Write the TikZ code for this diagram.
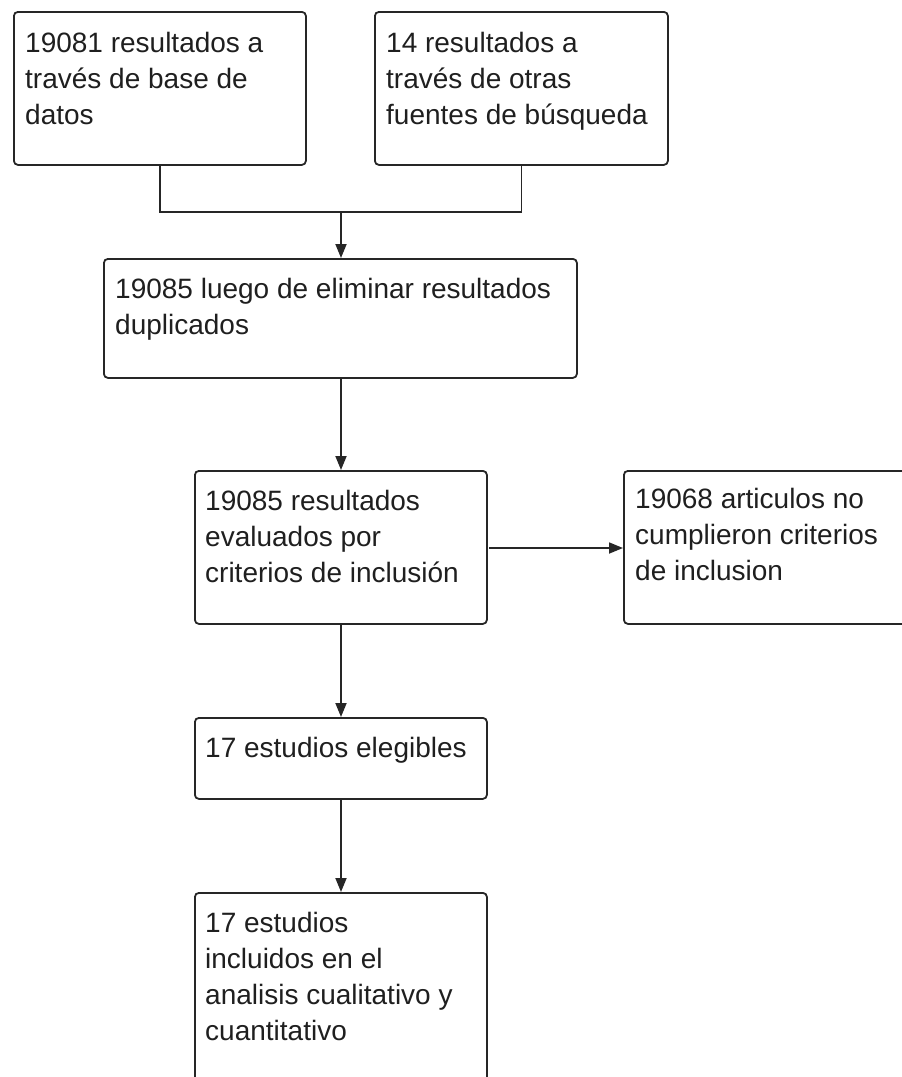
\documentclass[tikz,border=0pt]{standalone}
\usepackage{fontspec}
\setmainfont{Liberation Sans}
\usetikzlibrary{arrows.meta}
\begin{document}
\begin{tikzpicture}[x=1pt,y=-1pt,
  box/.style={draw=black!85, line width=1.8pt, rounded corners=4pt, inner sep=0pt, anchor=north west},
  lbl/.style={anchor=base west, align=left, inner sep=0pt, font=\fontsize{28}{36}\selectfont, text=black!88},
  conn/.style={draw=black!85, line width=1.8pt},
  arr/.style={conn, -{Triangle[length=14pt,width=11pt]}}]
\useasboundingbox (0,0) rectangle (902,1077);
\clip (0,0) rectangle (902,1077);
% boxes
\node[box, minimum width=292pt, minimum height=153pt] (b1) at (13,11) {};
\node[box, minimum width=293pt, minimum height=153pt] (b2) at (374,11) {};
\node[box, minimum width=473pt, minimum height=119pt] (b3) at (103,258) {};
\node[box, minimum width=292pt, minimum height=153pt] (b4) at (194,470) {};
\node[box, minimum width=310pt, minimum height=153pt] (b5) at (623,470) {};
\node[box, minimum width=292pt, minimum height=81pt] (b6) at (194,717) {};
\node[box, minimum width=292pt, minimum height=220pt] (b7) at (194,892) {};
% labels (base anchor = baseline of the last line)
\node[lbl] (t1) at ([xshift=12pt,yshift=-113pt]b1.north west) {19081 resultados a\\través de base de\\datos};
\node[lbl] (t2) at ([xshift=12pt,yshift=-113pt]b2.north west) {14 resultados a\\través de otras\\fuentes de búsqueda};
\node[lbl] (t3) at ([xshift=12pt,yshift=-76pt]b3.north west) {19085 luego de eliminar resultados\\duplicados};
\node[lbl] (t4) at ([xshift=11pt,yshift=-112pt]b4.north west) {19085 resultados\\evaluados por\\criterios de inclusión};
\node[lbl] (t5) at ([xshift=12pt,yshift=-110pt]b5.north west) {19068 articulos no\\cumplieron criterios\\de inclusion};
\node[lbl] (t6) at ([xshift=11pt,yshift=-40pt]b6.north west) {17 estudios elegibles};
\node[lbl] (t7) at ([xshift=11pt,yshift=-148pt]b7.north west) {17 estudios\\incluidos en el\\analisis cualitativo y\\cuantitativo};
% connectors
\coordinate (j) at (341,212);
\coordinate (h) at (489,548);
\draw[conn] (b1.south) |- (j);
\draw[conn] (b2.south) |- (j);
\draw[arr] (j) -- (b3.north -| j);
\draw[arr] (b3.south -| j) -- (b4.north -| j);
\draw[arr] (h) -- (b5.west |- h);
\draw[arr] (b4.south -| j) -- (b6.north -| j);
\draw[arr] (b6.south -| j) -- (b7.north -| j);
\end{tikzpicture}
\end{document}
